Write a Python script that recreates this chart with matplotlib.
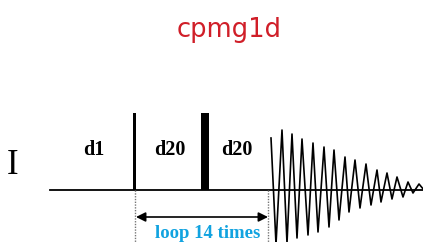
import matplotlib.pyplot as plt

# Pulse sequence layout (pixel-like units, y grows downward)
baseline_y = 189.5
baseline_x = [50, 423]

pulse_x = [134.5, 205]
pulse_w = [3.5, 8]
pulse_top = [113, 113]

delay_labels = ['d1', 'd20', 'd20']
delay_x = [94, 170, 237]
delay_y = 150

loop_start, loop_end = 135, 268
loop_label = 'loop 14 times'

# FID trace
fid_x = [271, 276, 282, 287, 292, 297, 302, 308, 313, 318, 324, 329, 334, 339,
         345, 349, 355, 360, 366, 371, 377, 381, 387, 392, 397, 403, 408, 413,
         419, 424]
fid_y = [138, 244, 130, 243, 134, 238, 139, 235, 143, 232, 147, 227, 150, 220,
         157, 212, 160, 208, 164, 205, 170, 202, 173, 199, 177, 197, 182, 193,
         184, 190]

fig = plt.figure(figsize=(4.23, 2.42), dpi=100)
ax = fig.add_axes([0, 0, 1, 1])
ax.set_xlim(0, 423)
ax.set_ylim(242, 0)
ax.axis('off')

ax.text(229, 30, 'cpmg1d', color='#d01e28', fontsize=18.5, family='DejaVu Sans',
        ha='center', va='center')

ax.text(13, 166, 'I', fontsize=25, family='Liberation Serif', ha='center', va='center')

ax.plot(baseline_x, [baseline_y, baseline_y], color='black', lw=1.3)

ax.bar(pulse_x, [baseline_y - t for t in pulse_top], width=pulse_w, bottom=pulse_top,
       color='black')

for lab, x in zip(delay_labels, delay_x):
    ax.text(x, delay_y, lab, fontsize=14.5, family='Liberation Serif', weight='bold',
            ha='center', va='center')

for x in [loop_start, loop_end]:
    ax.plot([x, x], [baseline_y, 242], color='#777777', lw=1, ls=(0, (1, 1)))

ax.annotate('', xy=(loop_start + 1, 217), xytext=(loop_end, 217),
            arrowprops=dict(arrowstyle='<|-|>', color='black', lw=1.2,
                            mutation_scale=14, shrinkA=0, shrinkB=0))
ax.text(208, 233, loop_label, color='#11a3e0', fontsize=13.5,
        family='Liberation Serif', weight='bold', ha='center', va='center')

ax.plot(fid_x, fid_y, color='black', lw=1.2)

fig.savefig('out.png', dpi=100)
